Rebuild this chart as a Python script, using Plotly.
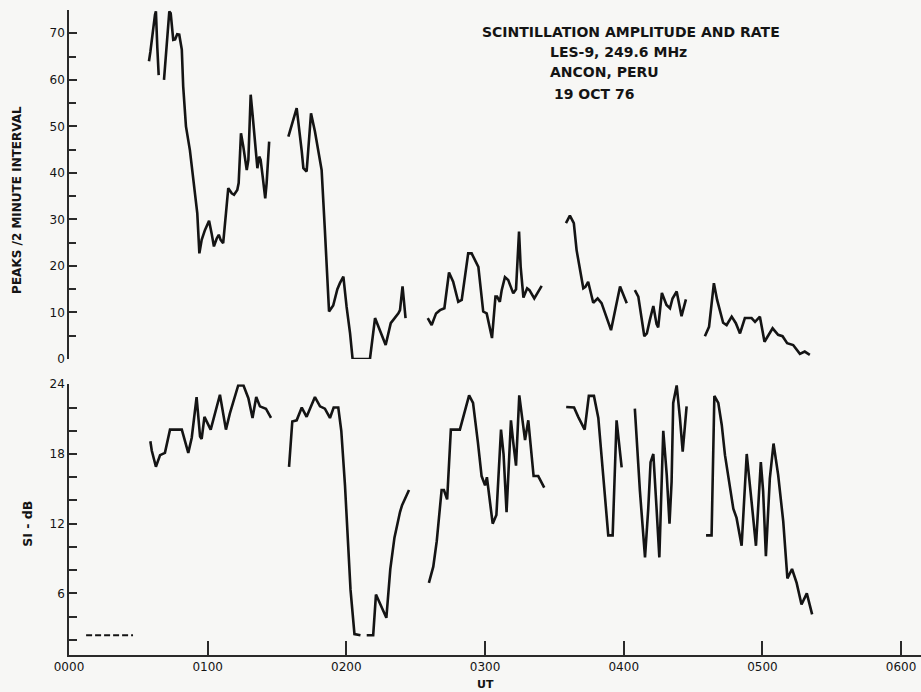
import plotly.graph_objects as go

# ---------------- data (UT in minutes after 0000) ----------------
rate_ut = [34.6, 35.2, 37.2, 37.6, 38.2, 38.8, None,
           41.1, 43.4, 44.0, 45.1, 45.9, 46.8, 47.7, 48.8, 49.4, 50.2, 50.6, 52.3, 53.8, 54.9, 55.5, 56.4,
           57.4, 58.8, 60.6, 61.7, 62.7, 63.9, 64.8, 65.6, 66.7, 67.9, 68.9, 70.4, 71.4, 72.8, 73.4, 74.0,
           74.4, 75.4, 76.9, 77.6, 78.6, 79.5, 80.5, 81.5, 82.3, 82.9, 83.8, 84.9, 85.5, 86.6, None,
           94.9, 98.5, 100.7, 101.4, 102.8, 104.7, 106.4, 107.8, 109.3, 110.7, 112.5, 114.3, 116.1, 117.2,
           118.7, 120.1, 121.6, 122.7, 130.2, 132.4, 134.5, 137.0, 139.2, 141.0, 142.5, 143.2, 144.3, 145.6, None,
           155.2, 156.9, 158.8, 160.5, 162.4, 164.4, 166.2, 168.4, 169.9, 172.7, 174.2, 177.1, 179.2, 180.7,
           183.0, 184.5, 185.2, 186.4, 187.2, 188.6, 190.0, 192.2, 193.4, 194.7, 195.4, 196.6, 198.2, 199.2,
           201.3, 204.5, None,
           215.0, 216.7, 218.4, 219.6, 222.5, 223.4, 224.6, 226.8, 228.7, 230.4, 234.5, 238.4, 241.3, None,
           244.8, 246.3, 248.9, 250.0, 251.3, 252.8, 254.2, 254.9, 256.5, 258.5, 260.0, 261.1, 262.9, 264.0,
           265.0, 266.9, None,
           275.1, 276.9, 279.0, 280.4, 283.0, 284.5, 286.7, 288.5, 290.3, 292.4, 295.3, 296.8, 298.9, 300.9,
           304.4, 306.8, 308.7, 310.7, 313.3, 316.2, 318.3, 320.5]
rate_peaks = [64, 66, 74, 74.7, 67, 61, None,
              60, 74.7, 74.3, 68.6, 68.7, 69.8, 69.7, 66.5, 58.6, 52.1, 50.0, 44.9, 38.5, 34.2, 31.3, 22.7,
              25.6, 27.7, 29.7, 27.0, 24.2, 25.9, 26.7, 25.6, 24.9, 31.3, 36.7, 35.6, 35.3, 36.3, 37.8, 44.2,
              48.5, 45.7, 40.6, 42.8, 56.8, 52.1, 47.1, 41.0, 43.5, 42.8, 39.2, 34.5, 37.8, 46.7, None,
              47.8, 53.9, 44.6, 41.0, 40.3, 52.8, 48.9, 45.3, 40.6, 27.7, 10.2, 11.5, 15.0, 16.3,
              17.7, 11.2, 5.5, 0, 0, 8.8, 6.2, 3.0, 7.7, 8.8, 9.8, 10.5, 15.6, 8.8, None,
              8.8, 7.3, 9.8, 10.5, 10.9, 18.6, 16.6, 12.3, 12.7, 22.7, 22.7, 19.8, 10.2, 9.8,
              4.5, 13.4, 13.4, 12.3, 14.8, 17.6, 17.0, 14.1, 15.0, 27.4, 19.8, 13.2, 15.2, 14.8,
              13.0, 15.7, None,
              29.2, 30.8, 29.2, 23.4, 15.2, 15.5, 16.6, 12.1, 13.0, 12.0, 6.2, 15.6, 12.0, None,
              14.8, 13.4, 4.9, 5.5, 8.4, 11.4, 7.5, 6.8, 14.2, 11.6, 10.9, 13.0, 14.5, 12.0,
              9.2, 12.8, None,
              4.9, 6.9, 16.3, 12.7, 7.8, 7.3, 9.1, 7.7, 5.5, 8.8, 8.8, 8.0, 9.1, 3.7,
              6.6, 5.2, 4.9, 3.4, 3.0, 1.1, 1.6, 0.9]

si_ut = [35.2, 35.8, 37.6, 39.4, 41.5, 43.7, 48.8, 51.6, 53.1, 55.2, 56.7, 57.4, 58.6, 61.3, 65.3,
         67.9, 69.6, 73.2, 75.5, 77.6, 79.4, 81.0, 82.6, 85.2, 87.4, None,
         95.2, 96.6, 98.5, 100.7, 102.8, 106.4, 108.6, 110.7, 112.9, 114.5, 116.5, 117.8, 119.4, 120.8,
         121.8, 123.5, 126.1, None,
         128.8, 131.6, 132.8, 137.3, 139.0, 140.8, 143.2, 144.1, 147.1, None,
         155.7, 157.6, 159.1, 161.2, 162.2, 163.6, 165.2, 169.1, 173.1, 174.8, 176.9, 178.5, 180.0, 180.8,
         183.3, 184.9, 186.9, 188.0, 189.3, 191.2, 192.2, 193.4, 194.8, 197.3, 198.7, 201.0, 203.0, 205.6, None,
         215.1, 218.5, 220.3, 223.1, 224.9, 227.1, 229.0, 231.2, 233.3, 235.2, 236.9, 239.1, None,
         244.8, 247.0, 249.2, 250.6, 251.6, 252.8, 254.2, 255.4, 257.1, 258.6, 259.8, 260.7, 261.4, 262.9,
         264.3, 265.5, 267.2, None,
         275.6, 278.0, 279.2, 280.9, 282.4, 283.8, 287.4, 288.8, 291.0, 293.2, 295.3, 297.2, 299.3, 300.3,
         301.5, 303.2, 304.8, 306.8, 309.0, 310.8, 312.8, 314.8, 316.9, 319.2, 321.5]
si_db = [19.1, 18.3, 16.9, 17.9, 18.1, 20.1, 20.1, 18.1, 19.4, 22.9, 19.5, 19.3, 21.2, 20.1, 23.1,
         20.1, 21.5, 23.9, 23.9, 22.8, 21.1, 22.9, 22.1, 21.9, 21.1, None,
         16.9, 20.8, 20.9, 22.0, 21.2, 22.9, 22.1, 21.9, 21.1, 22.0, 22.0, 20.0, 15.3, 9.6,
         6.3, 2.5, 2.4, None,
         2.4, 2.4, 5.9, 3.9, 8.1, 10.8, 13.0, 13.6, 14.9, None,
         6.9, 8.3, 10.5, 14.9, 14.9, 14.1, 20.1, 20.1, 23.05, 22.4, 19.0, 16.1, 15.3, 16.0,
         12.0, 12.75, 20.1, 18.0, 13.0, 20.9, 19.0, 17.0, 23.05, 19.2, 20.9, 16.1, 16.1, 15.1, None,
         22.05, 22.0, 21.2, 20.1, 23.0, 23.0, 21.1, 16.0, 11.0, 11.0, 20.9, 16.85, None,
         21.9, 14.8, 9.1, 13.3, 17.3, 18.0, 13.3, 9.1, 20.0, 16.2, 12.0, 15.6, 22.4, 23.9,
         21.1, 18.2, 22.1, None,
         11.0, 11.0, 23.0, 22.4, 20.5, 17.9, 13.3, 12.5, 10.1, 18.0, 13.9, 10.1, 17.3, 14.8,
         9.2, 15.9, 18.9, 16.2, 12.2, 7.3, 8.1, 6.9, 5.05, 6.0, 4.2]

noise_ut = [7.4, 27.7]
noise_db = [2.4, 2.4]

x_tickvals = [0, 60, 120, 180, 240, 300, 360]
x_ticktext = ["0000", "0100", "0200", "0300", "0400", "0500", "0600"]
rate_ticks = [0, 10, 20, 30, 40, 50, 60, 70]
si_ticks = [6, 12, 18, 24]

title_lines = ["SCINTILLATION AMPLITUDE AND RATE", "LES-9, 249.6 MHz", "ANCON, PERU", "19 OCT 76"]

# ---------------- figure ----------------
INK = "#141414"
AX = "#2a2a2a"
BG = "#f7f7f5"
FONT = "DejaVu Sans"

fig = go.Figure()
fig.add_trace(go.Scatter(x=rate_ut, y=rate_peaks, mode="lines", xaxis="x", yaxis="y",
                         line=dict(color=INK, width=2.6), showlegend=False))
fig.add_trace(go.Scatter(x=si_ut, y=si_db, mode="lines", xaxis="x2", yaxis="y2",
                         line=dict(color=INK, width=2.6), showlegend=False))
fig.add_trace(go.Scatter(x=noise_ut, y=noise_db, mode="lines", xaxis="x2", yaxis="y2",
                         line=dict(color=INK, width=2, dash="6px,3px"), showlegend=False))

xr = [0, 368.6]
fig.update_layout(
    width=921, height=692,
    margin=dict(l=69, r=0, t=10, b=37, autoexpand=False),
    paper_bgcolor=BG, plot_bgcolor=BG,
    font=dict(family=FONT, color=INK),
    xaxis=dict(domain=[0, 1], range=xr, anchor="y", matches="x2", showline=False, automargin=False,
               showticklabels=False, ticks="", showgrid=False, zeroline=False),
    yaxis=dict(domain=[0.4589, 1], range=[0, 75], anchor="x", showline=True, linecolor=AX, linewidth=1.5,
               ticks="inside", ticklen=8, tickwidth=1.5, tickcolor=AX, automargin=False,
               tickvals=rate_ticks, showgrid=False, zeroline=False,
               tickfont=dict(size=12, family=FONT, color=INK),
               minor=dict(ticks="inside", dtick=5, tick0=0, ticklen=7, tickwidth=1.5, tickcolor=AX, showgrid=False)),
    xaxis2=dict(domain=[0, 1], range=xr, anchor="y2", showline=True, linecolor=AX, linewidth=1.5,
                ticks="inside", ticklen=14, tickwidth=1.5, tickcolor=AX, automargin=False,
                tickvals=x_tickvals, ticktext=x_ticktext, showgrid=False, zeroline=False,
                tickfont=dict(size=12, family=FONT, color=INK)),
    yaxis2=dict(domain=[0, 0.4197], range=[0.7, 24], anchor="x2", showline=True, linecolor=AX, linewidth=1.5,
                ticks="inside", ticklen=8, tickwidth=1.5, tickcolor=AX, automargin=False,
                tickvals=si_ticks, showgrid=False, zeroline=False,
                tickfont=dict(size=12, family=FONT, color=INK),
                minor=dict(ticks="inside", dtick=2, tick0=0, ticklen=8, tickwidth=1.5, tickcolor=AX, showgrid=False)),
)

# header text block
ys = [70.3, 66.0, 61.7, 57.0]
xs = [177.8, 207.2, 207.2, 208.9]
for t, xx, yy in zip(title_lines, xs, ys):
    fig.add_annotation(text=t, x=xx, y=yy, xref="x", yref="y", xanchor="left", yanchor="middle",
                       showarrow=False, font=dict(size=14, family=FONT, color=INK, weight="bold"))

# axis titles
fig.add_annotation(text="PEAKS /2 MINUTE INTERVAL", x=-0.061, y=34.2, xref="paper", yref="y",
                   textangle=-90, showarrow=False, xanchor="center", yanchor="middle",
                   font=dict(size=12, family=FONT, color=INK, weight="bold"))
fig.add_annotation(text="SI - dB", x=-0.048, y=12.0, xref="paper", yref="y2",
                   textangle=-90, showarrow=False, xanchor="center", yanchor="middle",
                   font=dict(size=12.5, family=FONT, color=INK, weight="bold"))
fig.add_annotation(text="UT", x=180, y=-0.0465, xref="x2", yref="paper",
                   showarrow=False, xanchor="center", yanchor="middle",
                   font=dict(size=11, family=FONT, color=INK, weight="bold"))

fig.write_html("out.html",
               config={"displayModeBar": False},
               post_script="document.body.style.margin='0';document.body.style.overflow='hidden';")
